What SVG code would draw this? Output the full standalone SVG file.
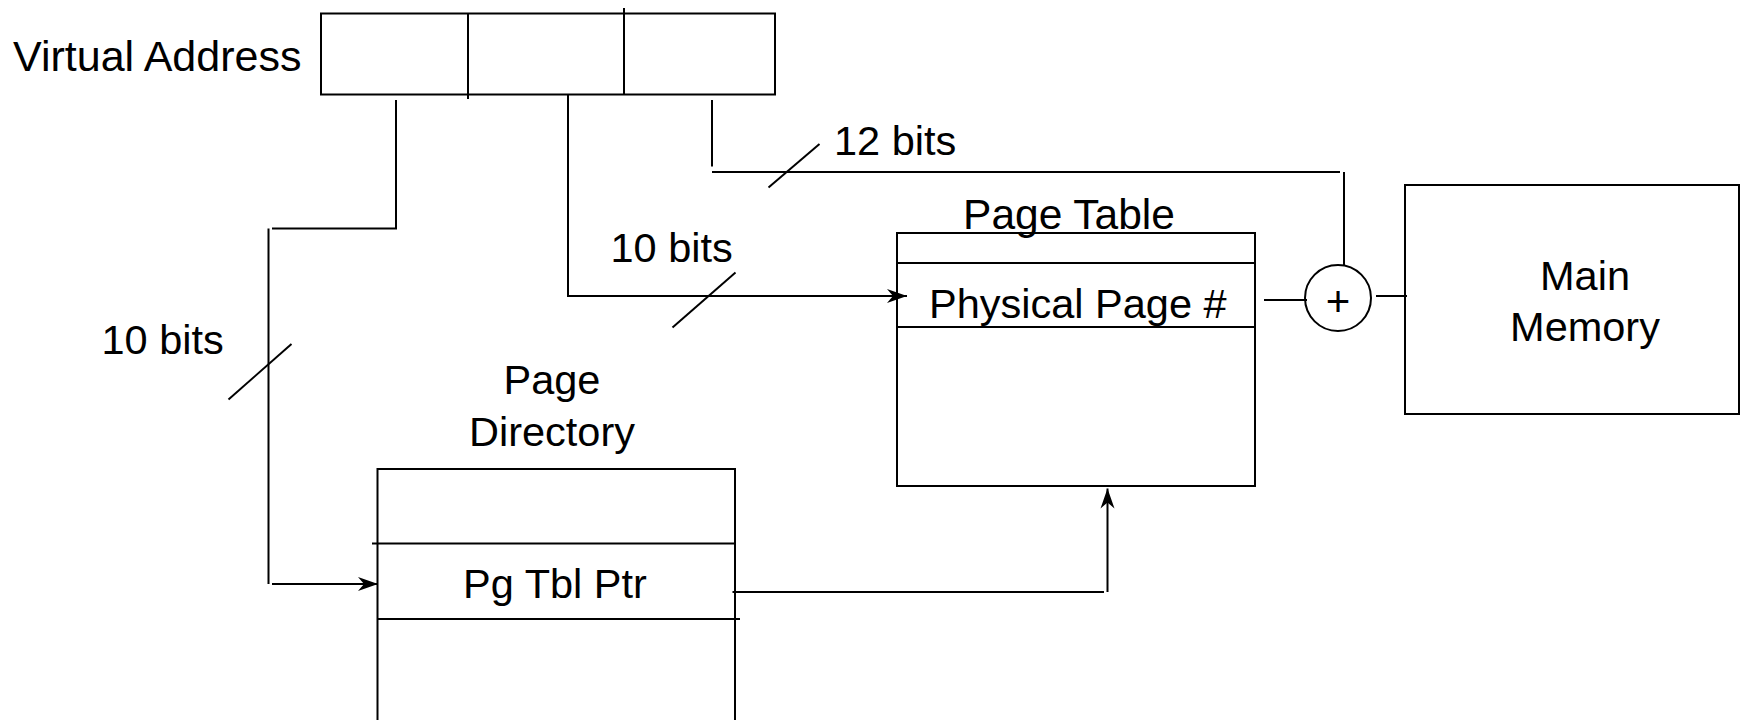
<svg xmlns="http://www.w3.org/2000/svg" width="1741" height="720" viewBox="0 0 1741 720">
<style>
  .box { fill: none; stroke: #000; stroke-width: 2; }
  .ln { fill: none; stroke: #000; stroke-width: 2; }
  .t { font-family: "Liberation Sans", Arial, sans-serif; font-size: 41.5px; fill: #000; }
  .m { text-anchor: middle; }
</style>
<defs>
  <marker id="arr" markerUnits="userSpaceOnUse" markerWidth="24" markerHeight="18" viewBox="-22 -9 24 18" refX="0" refY="0" orient="auto">
    <path d="M0,0 L-20,-7 L-14,0 L-20,7 Z" fill="#000"/>
  </marker>
</defs>
<rect width="1741" height="720" fill="#fff"/>

<g id="virtual-address">
  <text class="t" x="13" y="70.5" style="font-size:43px">Virtual Address</text>
  <rect class="box" x="321" y="13.5" width="454" height="81"/>
  <line class="ln" x1="468" y1="13.5" x2="468" y2="99"/>
  <line class="ln" x1="624" y1="8" x2="624" y2="94.5"/>
</g>

<g id="page-table">
  <text class="t m" x="1069" y="229" style="font-size:42.5px">Page Table</text>
  <rect class="box" x="897" y="233" width="358" height="253"/>
  <line class="ln" x1="897" y1="263" x2="1255" y2="263"/>
  <line class="ln" x1="897" y1="327" x2="1255" y2="327"/>
  <text class="t" x="929" y="318">Physical Page #</text>
</g>

<g id="page-directory">
  <text class="t m" x="552" y="394">Page</text>
  <text class="t m" x="552" y="446">Directory</text>
  <rect class="box" x="377.5" y="469" width="357.5" height="280"/>
  <line class="ln" x1="372" y1="543.5" x2="735" y2="543.5"/>
  <line class="ln" x1="377.5" y1="619" x2="740" y2="619"/>
  <text class="t m" x="555" y="598">Pg Tbl Ptr</text>
</g>

<g id="adder">
  <circle cx="1338" cy="298" r="33" fill="none" stroke="#000" stroke-width="2"/>
  <text class="t m" x="1338" y="316" style="font-size:42px">+</text>
</g>

<g id="main-memory">
  <rect class="box" x="1405" y="185" width="334" height="229"/>
  <text class="t m" x="1585" y="290">Main</text>
  <text class="t m" x="1585" y="341">Memory</text>
</g>

<g id="connectors">
  <!-- left 10 bits: directory index -->
  <polyline class="ln" points="396,100 396,228.5 272,228.5"/>
  <line class="ln" x1="268.5" y1="228.5" x2="268.5" y2="584"/>
  <line class="ln" x1="272" y1="584" x2="378" y2="584" marker-end="url(#arr)"/>
  <line class="ln" x1="228.5" y1="399.5" x2="291.5" y2="344"/>
  <text class="t" x="101.5" y="354">10 bits</text>

  <!-- middle 10 bits: table index -->
  <polyline class="ln" points="568,94.5 568,296 907,296" marker-end="url(#arr)"/>
  <line class="ln" x1="672.5" y1="327.5" x2="735.5" y2="272.5"/>
  <text class="t" x="610.5" y="262">10 bits</text>

  <!-- right 12 bits: offset -->
  <polyline class="ln" points="712,100 712,166.5"/>
  <line class="ln" x1="712" y1="172" x2="1340" y2="172"/>
  <line class="ln" x1="1344" y1="172" x2="1344" y2="265"/>
  <line class="ln" x1="768.5" y1="187.5" x2="819.5" y2="144"/>
  <text class="t" x="834" y="155">12 bits</text>

  <!-- physical page # to adder, adder to memory -->
  <line class="ln" x1="1264" y1="300" x2="1307" y2="300"/>
  <line class="ln" x1="1376" y1="296" x2="1407" y2="296"/>

  <!-- pg tbl ptr to page table -->
  <line class="ln" x1="732.5" y1="592" x2="1104" y2="592"/>
  <line class="ln" x1="1107.5" y1="592" x2="1107.5" y2="488.5" marker-end="url(#arr)"/>
</g>
</svg>
